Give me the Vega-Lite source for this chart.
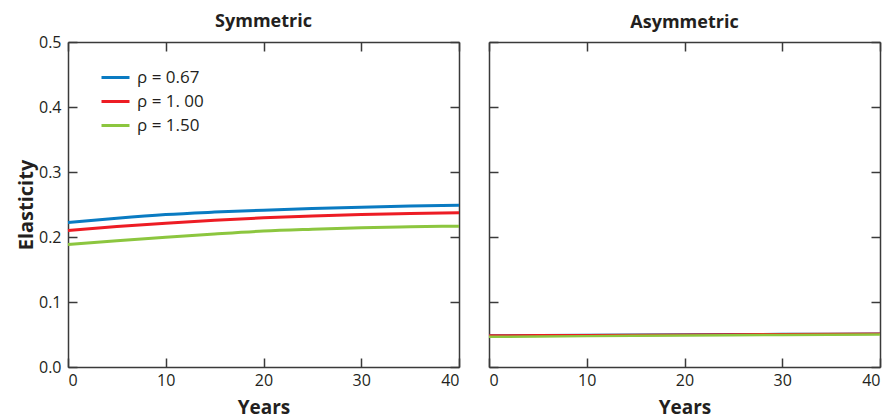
{
  "$schema": "https://vega.github.io/schema/vega-lite/v6.json",
  "autosize": {"type": "pad"},
  "bounds": "flush",
  "padding": {"left": 16, "top": 13, "right": 0, "bottom": 0},
  "spacing": 30,
  "background": "white",
  "config": {
    "font": "Open Sans",
    "view": {"stroke": null},
    "axis": {
      "grid": false,
      "labelFont": "Open Sans",
      "labelFontSize": 16,
      "labelColor": "#231f20",
      "titleFont": "Open Sans",
      "titleFontSize": 19,
      "titleFontWeight": "bold",
      "titleColor": "#231f20",
      "domainColor": "#3a3a3a",
      "domainWidth": 1.5,
      "tickColor": "#3a3a3a",
      "tickWidth": 1.5,
      "tickSize": -9,
      "labelPadding": 16
    },
    "title": {"font": "Open Sans", "fontSize": 18, "fontWeight": "bold", "color": "#231f20"},
    "legend": {
      "orient": "none",
      "legendX": 32,
      "legendY": 20,
      "title": null,
      "symbolType": "stroke",
      "symbolSize": 784,
      "symbolStrokeWidth": 3,
      "labelFont": "Open Sans",
      "labelFontSize": 17,
      "labelColor": "#231f20",
      "labelOffset": 6,
      "rowPadding": -4
    }
  },
  "datasets": {
    "lines": [
      {"panel": "Symmetric", "rho": "ρ = 0.67", "year": 0, "value": 0.2223},
      {"panel": "Symmetric", "rho": "ρ = 0.67", "year": 5, "value": 0.2290},
      {"panel": "Symmetric", "rho": "ρ = 0.67", "year": 10, "value": 0.2346},
      {"panel": "Symmetric", "rho": "ρ = 0.67", "year": 15, "value": 0.2383},
      {"panel": "Symmetric", "rho": "ρ = 0.67", "year": 20, "value": 0.2413},
      {"panel": "Symmetric", "rho": "ρ = 0.67", "year": 25, "value": 0.2438},
      {"panel": "Symmetric", "rho": "ρ = 0.67", "year": 30, "value": 0.2459},
      {"panel": "Symmetric", "rho": "ρ = 0.67", "year": 35, "value": 0.2476},
      {"panel": "Symmetric", "rho": "ρ = 0.67", "year": 40, "value": 0.2490},
      {"panel": "Symmetric", "rho": "ρ = 1. 00", "year": 0, "value": 0.2100},
      {"panel": "Symmetric", "rho": "ρ = 1. 00", "year": 5, "value": 0.2160},
      {"panel": "Symmetric", "rho": "ρ = 1. 00", "year": 10, "value": 0.2213},
      {"panel": "Symmetric", "rho": "ρ = 1. 00", "year": 15, "value": 0.2257},
      {"panel": "Symmetric", "rho": "ρ = 1. 00", "year": 20, "value": 0.2295},
      {"panel": "Symmetric", "rho": "ρ = 1. 00", "year": 25, "value": 0.2323},
      {"panel": "Symmetric", "rho": "ρ = 1. 00", "year": 30, "value": 0.2346},
      {"panel": "Symmetric", "rho": "ρ = 1. 00", "year": 35, "value": 0.2361},
      {"panel": "Symmetric", "rho": "ρ = 1. 00", "year": 40, "value": 0.2372},
      {"panel": "Symmetric", "rho": "ρ = 1.50", "year": 0, "value": 0.1884},
      {"panel": "Symmetric", "rho": "ρ = 1.50", "year": 5, "value": 0.1944},
      {"panel": "Symmetric", "rho": "ρ = 1.50", "year": 10, "value": 0.1998},
      {"panel": "Symmetric", "rho": "ρ = 1.50", "year": 15, "value": 0.2048},
      {"panel": "Symmetric", "rho": "ρ = 1.50", "year": 20, "value": 0.2092},
      {"panel": "Symmetric", "rho": "ρ = 1.50", "year": 25, "value": 0.2119},
      {"panel": "Symmetric", "rho": "ρ = 1.50", "year": 30, "value": 0.2141},
      {"panel": "Symmetric", "rho": "ρ = 1.50", "year": 35, "value": 0.2156},
      {"panel": "Symmetric", "rho": "ρ = 1.50", "year": 40, "value": 0.2167},
      {"panel": "Asymmetric", "rho": "ρ = 0.67", "year": 0, "value": 0.0485},
      {"panel": "Asymmetric", "rho": "ρ = 0.67", "year": 10, "value": 0.0492},
      {"panel": "Asymmetric", "rho": "ρ = 0.67", "year": 20, "value": 0.0500},
      {"panel": "Asymmetric", "rho": "ρ = 0.67", "year": 30, "value": 0.0507},
      {"panel": "Asymmetric", "rho": "ρ = 0.67", "year": 40, "value": 0.0512},
      {"panel": "Asymmetric", "rho": "ρ = 1. 00", "year": 0, "value": 0.0483},
      {"panel": "Asymmetric", "rho": "ρ = 1. 00", "year": 10, "value": 0.0490},
      {"panel": "Asymmetric", "rho": "ρ = 1. 00", "year": 20, "value": 0.0498},
      {"panel": "Asymmetric", "rho": "ρ = 1. 00", "year": 30, "value": 0.0505},
      {"panel": "Asymmetric", "rho": "ρ = 1. 00", "year": 40, "value": 0.0510},
      {"panel": "Asymmetric", "rho": "ρ = 1.50", "year": 0, "value": 0.0465},
      {"panel": "Asymmetric", "rho": "ρ = 1.50", "year": 10, "value": 0.0475},
      {"panel": "Asymmetric", "rho": "ρ = 1.50", "year": 20, "value": 0.0485},
      {"panel": "Asymmetric", "rho": "ρ = 1.50", "year": 30, "value": 0.0493},
      {"panel": "Asymmetric", "rho": "ρ = 1.50", "year": 40, "value": 0.0500}
    ]
  },
  "resolve": {"legend": {"color": "independent"}},
  "hconcat": [
    {
      "title": {"text": "Symmetric", "offset": 3},
      "width": 391,
      "height": 325,
      "data": {"name": "lines"},
      "transform": [{"filter": "datum.panel === 'Symmetric'"}],
      "resolve": {"axis": {"x": "independent", "y": "independent"}},
      "layer": [
        {
          "mark": {"type": "line", "interpolate": "monotone", "strokeWidth": 3},
          "encoding": {
            "x": {"field": "year", "type": "quantitative", "scale": {"domain": [0, 40], "nice": false},
                  "axis": {"orient": "bottom", "values": [0, 10, 20, 30, 40], "title": "Years", "labelPadding": 14, "titlePadding": 10}},
            "y": {"field": "value", "type": "quantitative", "scale": {"domain": [0, 0.5], "nice": false},
                  "axis": {"orient": "left", "values": [0, 0.1, 0.2, 0.3, 0.4, 0.5], "format": ".1f", "title": "Elasticity", "titleFontSize": 20, "labelPadding": 16, "titlePadding": 2}},
            "color": {"field": "rho", "type": "nominal",
                      "scale": {"domain": ["ρ = 0.67", "ρ = 1. 00", "ρ = 1.50"], "range": ["#0a7bc2", "#ed1c24", "#8cc63f"]},
                      "legend": {}}
          }
        },
        {
          "mark": {"type": "line", "strokeOpacity": 0},
          "encoding": {
            "x": {"field": "year", "type": "quantitative", "scale": {"domain": [0, 40], "nice": false},
                  "axis": {"orient": "top", "values": [0, 10, 20, 30, 40], "labels": false, "title": null}},
            "y": {"field": "value", "type": "quantitative", "scale": {"domain": [0, 0.5], "nice": false},
                  "axis": {"orient": "right", "values": [0, 0.1, 0.2, 0.3, 0.4, 0.5], "labels": false, "title": null}},
            "detail": {"field": "rho"}
          }
        }
      ]
    },
    {
      "title": {"text": "Asymmetric", "offset": 9},
      "width": 391,
      "height": 325,
      "data": {"name": "lines"},
      "transform": [{"filter": "datum.panel === 'Asymmetric'"}],
      "resolve": {"axis": {"x": "independent", "y": "independent"}},
      "layer": [
        {
          "mark": {"type": "line", "interpolate": "monotone", "strokeWidth": 2.5},
          "encoding": {
            "x": {"field": "year", "type": "quantitative", "scale": {"domain": [0, 40], "nice": false},
                  "axis": {"orient": "bottom", "values": [0, 10, 20, 30, 40], "title": "Years", "labelPadding": 14, "titlePadding": 10}},
            "y": {"field": "value", "type": "quantitative", "scale": {"domain": [0, 0.5], "nice": false},
                  "axis": {"orient": "left", "values": [0, 0.1, 0.2, 0.3, 0.4, 0.5], "labels": false, "title": null}},
            "color": {"field": "rho", "type": "nominal",
                      "scale": {"domain": ["ρ = 0.67", "ρ = 1. 00", "ρ = 1.50"], "range": ["#0a7bc2", "#ed1c24", "#8cc63f"]},
                      "legend": null}
          }
        },
        {
          "mark": {"type": "line", "strokeOpacity": 0},
          "encoding": {
            "x": {"field": "year", "type": "quantitative", "scale": {"domain": [0, 40], "nice": false},
                  "axis": {"orient": "top", "values": [0, 10, 20, 30, 40], "labels": false, "title": null}},
            "y": {"field": "value", "type": "quantitative", "scale": {"domain": [0, 0.5], "nice": false},
                  "axis": {"orient": "right", "values": [0, 0.1, 0.2, 0.3, 0.4, 0.5], "labels": false, "title": null}},
            "detail": {"field": "rho"}
          }
        }
      ]
    }
  ]
}
